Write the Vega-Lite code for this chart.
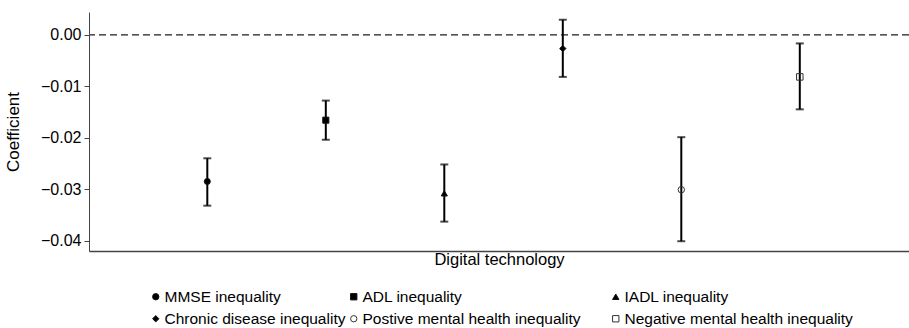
{
  "$schema": "https://vega.github.io/schema/vega-lite/v6.json",
  "width": 820,
  "height": 239,
  "autosize": {"type": "none"},
  "padding": {"left": 89, "top": 12, "right": 0, "bottom": 77},
  "background": "white",
  "config": {
    "font": "Liberation Sans",
    "view": {"stroke": null},
    "axis": {"labelFont": "Liberation Sans", "titleFont": "Liberation Sans", "titleFontWeight": "normal", "labelColor": "#000", "titleColor": "#000", "domainColor": "#444", "tickColor": "#444", "grid": false},
    "legend": {"labelFont": "Liberation Sans", "labelFontSize": 15.5, "labelColor": "#000", "title": null, "orient": "none", "direction": "vertical", "padding": 0, "rowPadding": 5, "labelOffset": 1, "symbolSize": 40, "symbolStrokeWidth": 1, "labelLimit": 400}
  },
  "data": {
    "values": [
      {"series": "MMSE inequality", "est": -0.0285, "lo": -0.0332, "hi": -0.0240},
      {"series": "ADL inequality", "est": -0.0166, "lo": -0.0204, "hi": -0.0128},
      {"series": "IADL inequality", "est": -0.0308, "lo": -0.0363, "hi": -0.0252},
      {"series": "Chronic disease inequality", "est": -0.0027, "lo": -0.0082, "hi": 0.0029},
      {"series": "Postive mental health inequality", "est": -0.0301, "lo": -0.0401, "hi": -0.0199},
      {"series": "Negative mental health inequality", "est": -0.0082, "lo": -0.0145, "hi": -0.0017}
    ]
  },
  "resolve": {"scale": {"shape": "independent", "fill": "independent", "stroke": "independent"}, "legend": {"shape": "independent", "fill": "independent", "stroke": "independent"}},
  "layer": [
    {
      "mark": {"type": "rule", "strokeDash": [7, 4], "color": "#555", "strokeWidth": 1},
      "encoding": {"y": {"datum": 0, "type": "quantitative"}}
    },
    {
      "mark": {"type": "rule", "color": "#000"},
      "encoding": {
        "x": {"field": "series", "type": "nominal",
          "scale": {"type": "point", "domain": ["MMSE inequality", "ADL inequality", "IADL inequality", "Chronic disease inequality", "Postive mental health inequality", "Negative mental health inequality"], "padding": 0.96, "align": 0.52},
          "axis": {"labels": false, "ticks": false, "title": "Digital technology", "titleFontSize": 16.5, "titlePadding": 0, "domainWidth": 1.5}},
        "y": {"field": "lo", "type": "quantitative",
          "scale": {"domain": [-0.042, 0.0044], "nice": false, "zero": false},
          "axis": {"values": [0, -0.01, -0.02, -0.03, -0.04], "format": ".2f", "labelFontSize": 16, "tickSize": 5, "labelPadding": 3, "title": "Coefficient", "titleFontSize": 17, "titlePadding": 18, "domainWidth": 1}},
        "y2": {"field": "hi"},
        "strokeWidth": {"field": "series", "type": "nominal", "legend": null,
          "scale": {"domain": ["MMSE inequality", "ADL inequality", "IADL inequality", "Chronic disease inequality", "Postive mental health inequality", "Negative mental health inequality"], "range": [2, 2, 2, 2, 3, 3]}}
      }
    },
    {
      "mark": {"type": "tick", "orient": "horizontal", "size": 8, "thickness": 2, "color": "#000"},
      "encoding": {"x": {"field": "series", "type": "nominal"}, "y": {"field": "lo", "type": "quantitative"}}
    },
    {
      "mark": {"type": "tick", "orient": "horizontal", "size": 8, "thickness": 2, "color": "#000"},
      "encoding": {"x": {"field": "series", "type": "nominal"}, "y": {"field": "hi", "type": "quantitative"}}
    },
    {
      "transform": [{"filter": {"field": "series", "oneOf": ["MMSE inequality", "Chronic disease inequality"]}}],
      "mark": {"type": "point", "filled": true, "strokeWidth": 1, "opacity": 1},
      "encoding": {
        "x": {"field": "series", "type": "nominal"},
        "y": {"field": "est", "type": "quantitative"},
        "size": {"field": "series", "type": "nominal", "legend": null,
          "scale": {"domain": ["MMSE inequality", "ADL inequality", "IADL inequality", "Chronic disease inequality", "Postive mental health inequality", "Negative mental health inequality"], "range": [36, 42, 55, 75, 24, 38]}},
        "shape": {"field": "series", "type": "nominal",
          "scale": {"domain": ["MMSE inequality", "Chronic disease inequality"], "range": ["circle", "diamond"]},
          "legend": {"legendX": 59, "legendY": 277}},
        "fill": {"field": "series", "type": "nominal",
          "scale": {"domain": ["MMSE inequality", "Chronic disease inequality"], "range": ["#000", "#000"]},
          "legend": {"legendX": 59, "legendY": 277}},
        "stroke": {"field": "series", "type": "nominal",
          "scale": {"domain": ["MMSE inequality", "Chronic disease inequality"], "range": ["#111", "#111"]},
          "legend": {"legendX": 59, "legendY": 277}}
      }
    },
    {
      "transform": [{"filter": {"field": "series", "oneOf": ["ADL inequality", "Postive mental health inequality"]}}],
      "mark": {"type": "point", "filled": true, "strokeWidth": 1, "opacity": 1},
      "encoding": {
        "x": {"field": "series", "type": "nominal"},
        "y": {"field": "est", "type": "quantitative"},
        "size": {"field": "series", "type": "nominal", "legend": null},
        "shape": {"field": "series", "type": "nominal",
          "scale": {"domain": ["ADL inequality", "Postive mental health inequality"], "range": ["square", "circle"]},
          "legend": {"legendX": 257, "legendY": 277}},
        "fill": {"field": "series", "type": "nominal",
          "scale": {"domain": ["ADL inequality", "Postive mental health inequality"], "range": ["#000", "transparent"]},
          "legend": {"legendX": 257, "legendY": 277}},
        "stroke": {"field": "series", "type": "nominal",
          "scale": {"domain": ["ADL inequality", "Postive mental health inequality"], "range": ["#111", "#333"]},
          "legend": {"legendX": 257, "legendY": 277}}
      }
    },
    {
      "transform": [{"filter": {"field": "series", "oneOf": ["IADL inequality", "Negative mental health inequality"]}}],
      "mark": {"type": "point", "filled": true, "strokeWidth": 1, "opacity": 1},
      "encoding": {
        "x": {"field": "series", "type": "nominal"},
        "y": {"field": "est", "type": "quantitative"},
        "size": {"field": "series", "type": "nominal", "legend": null},
        "shape": {"field": "series", "type": "nominal",
          "scale": {"domain": ["IADL inequality", "Negative mental health inequality"], "range": ["triangle-up", "square"]},
          "legend": {"legendX": 519, "legendY": 277}},
        "fill": {"field": "series", "type": "nominal",
          "scale": {"domain": ["IADL inequality", "Negative mental health inequality"], "range": ["#000", "transparent"]},
          "legend": {"legendX": 519, "legendY": 277}},
        "stroke": {"field": "series", "type": "nominal",
          "scale": {"domain": ["IADL inequality", "Negative mental health inequality"], "range": ["#111", "#333"]},
          "legend": {"legendX": 519, "legendY": 277}}
      }
    }
  ]
}
